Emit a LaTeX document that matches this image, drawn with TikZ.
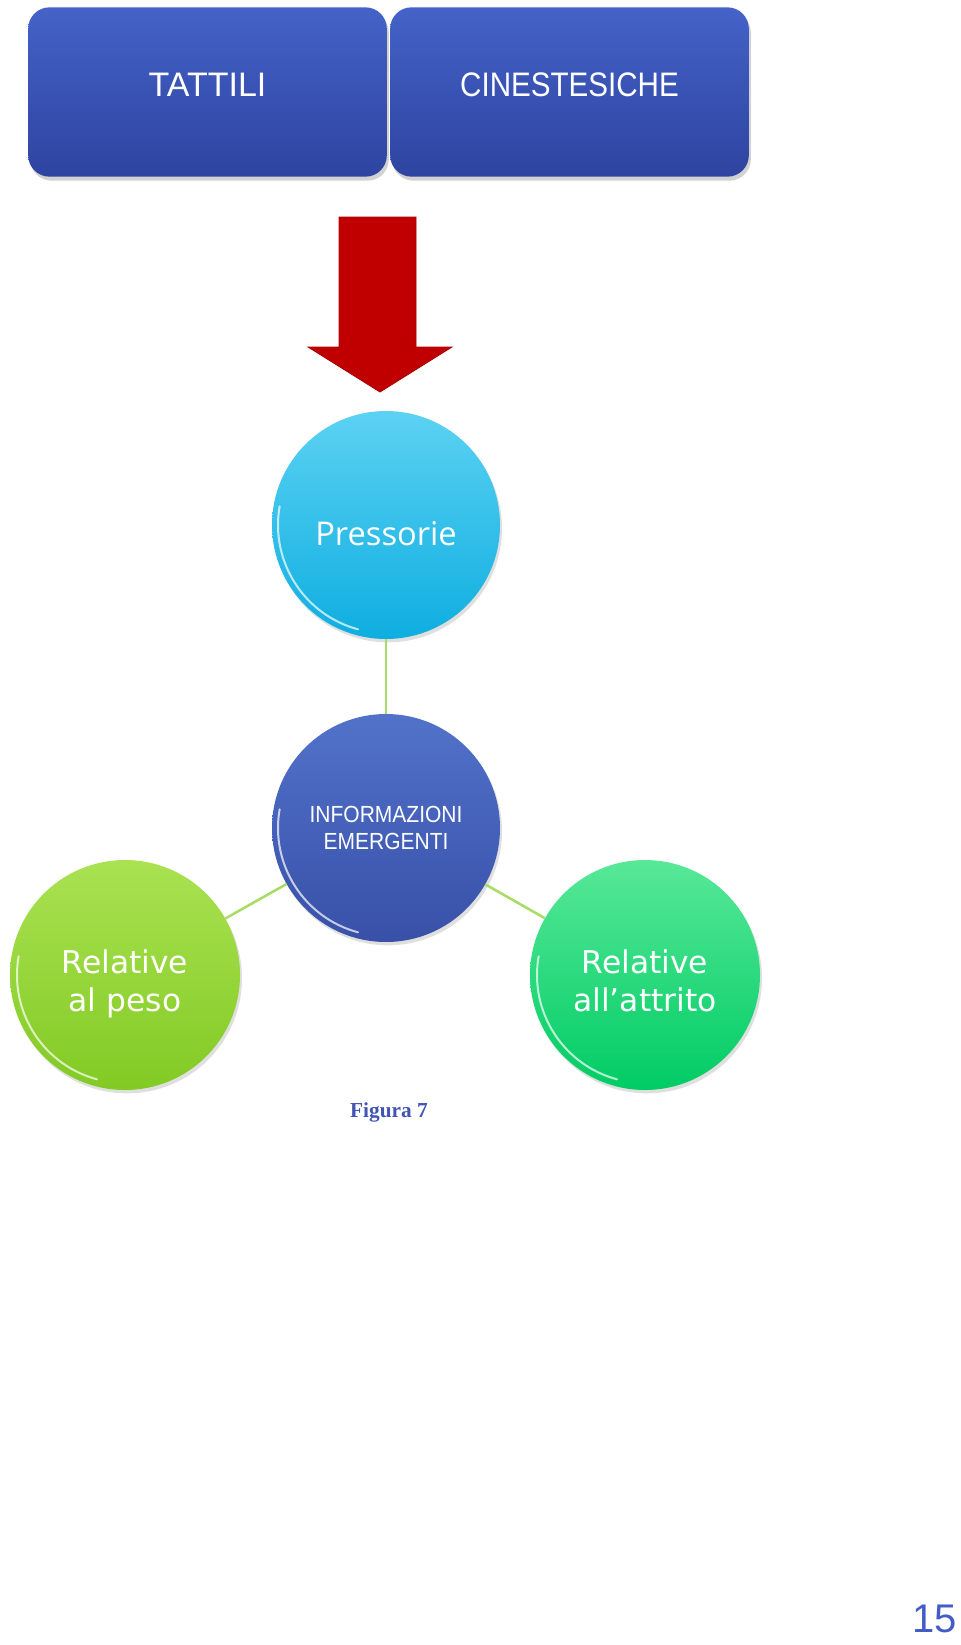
\documentclass[tikz,border=0pt]{standalone}
\usepackage{fontspec}
\usetikzlibrary{shadows}
\newfontfamily\boxfont[FakeStretch=0.9]{Liberation Sans}
\newfontfamily\plainfont{Liberation Sans}
\newfontfamily\narrowfont[FakeStretch=0.87]{Liberation Sans}
\newfontfamily\pressfont{Open Sans}
\newfontfamily\relfont{DejaVu Sans}
\newfontfamily\figfont{Liberation Serif}
\definecolor{boxtop}{RGB}{68,98,200}
\definecolor{boxbot}{RGB}{46,68,160}
\definecolor{arrowred}{RGB}{192,0,0}
\definecolor{arrowedge}{RGB}{170,0,0}
\definecolor{presstop}{RGB}{92,210,243}
\definecolor{pressbot}{RGB}{14,174,224}
\definecolor{infotop}{RGB}{82,114,202}
\definecolor{infobot}{RGB}{56,80,168}
\definecolor{lefttop}{RGB}{170,226,82}
\definecolor{leftbot}{RGB}{130,202,36}
\definecolor{righttop}{RGB}{88,232,152}
\definecolor{rightbot}{RGB}{0,204,100}
\definecolor{connector}{RGB}{168,220,100}
\definecolor{figblue}{RGB}{66,84,180}
\definecolor{pageblue}{RGB}{68,92,200}
\tikzset{
  x=0.75pt, y=-0.75pt,
  topbox/.style={rectangle, rounded corners=16pt, minimum width=269pt, minimum height=127pt,
    top color=boxtop, bottom color=boxbot, draw=none, text=white,
    drop shadow={opacity=0.35, shadow xshift=1.5pt, shadow yshift=-3pt}},
  bubble/.style={circle, minimum size=171pt, inner sep=0pt, text=white, align=center,
    drop shadow={opacity=0.25, shadow xshift=1.5pt, shadow yshift=-2.5pt}},
  conn/.style={draw=connector, line width=1.9pt},
  bevel/.style={white, opacity=0.7, line width=1.5pt, line cap=round},
}
% place text so that its (first) baseline lies at the given offset below the node centre
\newcommand{\basetext}[2]{\smash{\raisebox{-#1}{#2}}}
\begin{document}
\begin{tikzpicture}
\useasboundingbox[fill=white] (0,0) rectangle (960,1645);

\coordinate (pc) at (386,525);
\coordinate (ic) at (386,828);
\coordinate (lc) at (125,975);
\coordinate (rc) at (645,975);

% top boxes
\node[topbox, font=\plainfont\fontsize{25.5}{30}\selectfont] (tattili) at (207.5,92) {\basetext{3.4pt}{TATTILI}};
\node[topbox, font=\narrowfont\fontsize{25.5}{30}\selectfont] (cinest) at (569.5,92) {\basetext{3.4pt}{CINESTESICHE}};

% red arrow
\fill[arrowred, draw=arrowedge, line width=0.6pt]
  (339,217) -- (416,217) -- (416,347) -- (452,347) -- (380,392) -- (308,347) -- (339,347) -- cycle;

% circles
\node[bubble, top color=presstop, bottom color=pressbot,
  font=\pressfont\fontsize{24.5}{29}\selectfont] (press) at (pc) {\basetext{15.5pt}{Pressorie}};
\node[bubble, top color=infotop, bottom color=infobot,
  font=\boxfont\fontsize{17.5}{20.5}\selectfont] (info) at (ic)
  {\basetext{-4.5pt}{\begin{tabular}[t]{@{}c@{}}INFORMAZIONI\\EMERGENTI\end{tabular}}};
\node[bubble, top color=lefttop, bottom color=leftbot, minimum size=172.5pt,
  font=\relfont\fontsize{23.5}{28.5}\selectfont] (peso) at (lc)
  {\basetext{-1.5pt}{\begin{tabular}[t]{@{}c@{}}Relative\\al peso\end{tabular}}};
\node[bubble, top color=righttop, bottom color=rightbot, minimum size=172.5pt,
  font=\relfont\fontsize{23.5}{28.5}\selectfont] (attrito) at (rc)
  {\basetext{-1.5pt}{\begin{tabular}[t]{@{}c@{}}Relative\\all’attrito\end{tabular}}};

% bevel highlights (lower-left rim)
\foreach \n in {press,info,peso,attrito}{
  \draw[bevel] (\n.center) ++(105:108) arc[start angle=105, end angle=190, radius=108];
}

\draw[conn] (press) -- (info);
\draw[conn] (info) -- (peso);
\draw[conn] (info) -- (attrito);

% caption and page number
\node[font=\figfont\bfseries\fontsize{16}{19}\selectfont, text=figblue, anchor=base] (fig) at (389,1117) {Figura 7};
\node[font=\plainfont\fontsize{30}{34}\selectfont, text=pageblue, anchor=base east, inner sep=0pt] (page) at (957,1632) {15};
\end{tikzpicture}
\end{document}
